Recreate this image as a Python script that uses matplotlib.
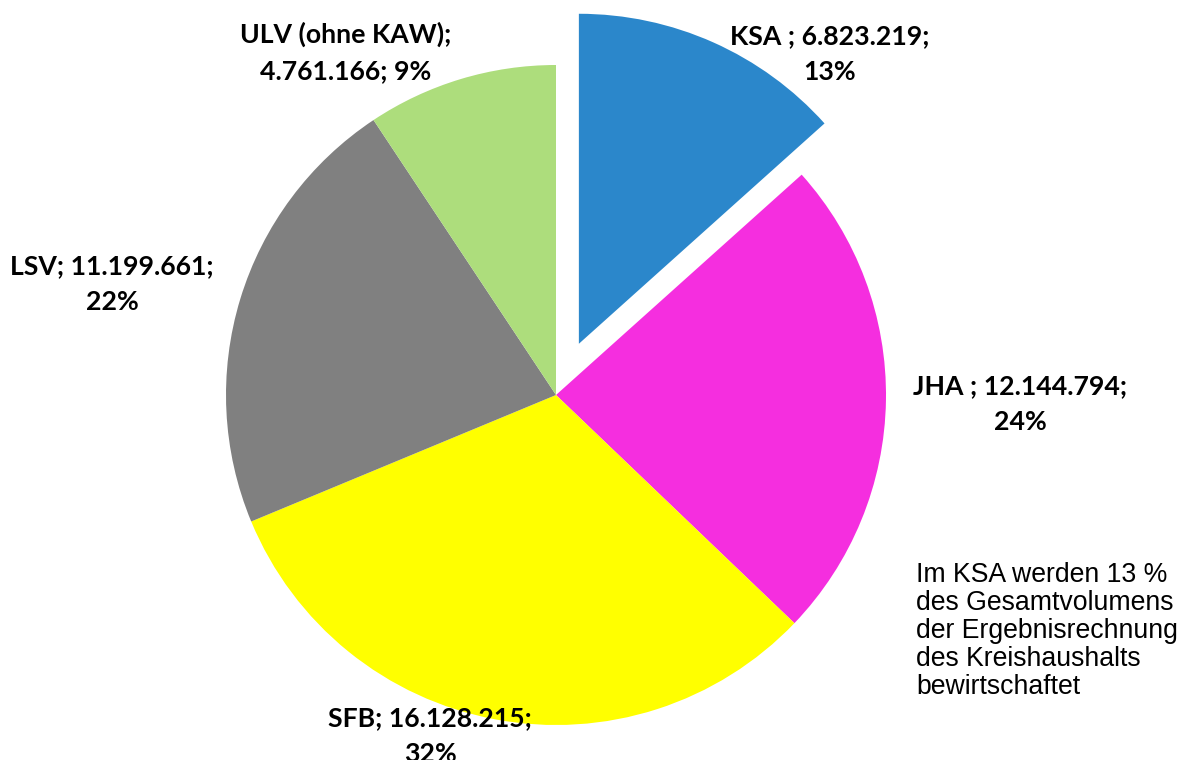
import matplotlib.pyplot as plt

# data
categories = ['KSA ', 'JHA ', 'SFB', 'LSV', 'ULV (ohne KAW)']
values = [6823219, 12144794, 16128215, 11199661, 4761166]
colors = ['#2B87CB', '#F52EDF', '#FFFF00', '#808080', '#ADDD7C']
explode = [0.17, 0, 0, 0, 0]  # fraction of the radius

note = ('Im KSA werden 13 %\ndes Gesamtvolumens\nder Ergebnisrechnung\n'
        'des Kreishaushalts\nbewirtschaftet')


def fmt(v):
    return f'{v:,}'.replace(',', '.')


W, H = 1189, 760
R = 330
fig = plt.figure(figsize=(W / 100, H / 100), dpi=100)
ax = fig.add_axes([0, 0, 1, 1])

ax.pie(values, colors=colors, explode=[e * R for e in explode], startangle=90,
       counterclock=False, radius=R, center=(556, H - 395),
       wedgeprops=dict(linewidth=0), frame=True)
ax.set_xlim(0, W)
ax.set_ylim(0, H)
ax.set_aspect('equal')
ax.axis('off')

total = sum(values)

# label block centres (pixels from top-left)
label_pos = [(830, 54), (1020, 404), (430, 736), (112, 284), (346, 52)]
label_tmpl = [
    '{0}; {1};\n{2}%',
    '{0}; {1};\n{2}%',
    '{0}; {1};\n{2}%',
    '{0}; {1};\n{2}%',
    '{0};\n{1}; {2}%',
]
for c, v, (x, y), tmpl in zip(categories, values, label_pos, label_tmpl):
    pct = round(100 * v / total)
    ax.text(x, H - y, tmpl.format(c, fmt(v), pct), ha='center', va='center',
            family='Lato', fontweight='bold', fontsize=19.2,
            linespacing=1.6, color='black')

ax.text(916, H - 631, note, ha='left', va='center', family='Liberation Sans',
        fontsize=19.2, linespacing=1.1, color='black')

fig.savefig('out.png', dpi=100)
